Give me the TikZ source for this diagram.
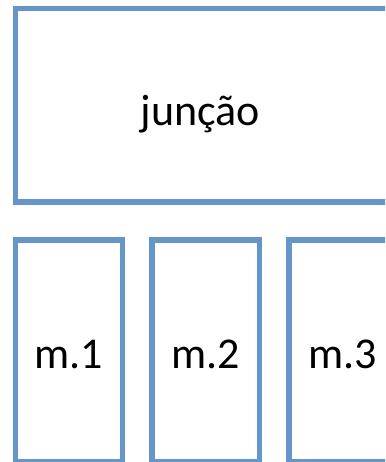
\documentclass[tikz,border=0pt]{standalone}
\usepackage{fontspec}
\setmainfont{Carlito}
\definecolor{boxblue}{RGB}{100,150,201}
\begin{document}
\begin{tikzpicture}[x=1pt,y=-1pt,
  panel/.style={draw=boxblue,line width=5.4pt},
  label/.style={anchor=base,inner sep=0pt,font=\fontsize{44}{52}\selectfont}]
\useasboundingbox (0,0) rectangle (385,462);
\begin{scope}
\clip (0,0) rectangle (385,462);
% upper block
\draw[panel] (15.6,8.7) rectangle (392,201.8);
% three lower blocks
\draw[panel] (15.6,240) rectangle (122.7,461.8);
\draw[panel] (152,240) rectangle (259.3,461.8);
\draw[panel] (289,240) rectangle (396,461.8);
\end{scope}
\node[label] (j) at (200.5,126) {junção};
\node[label] (m1) at (69,368) {m.1};
\node[label] (m2) at (205.7,368) {m.2};
\node[label] (m3) at (342.5,368) {m.3};
\end{tikzpicture}
\end{document}
